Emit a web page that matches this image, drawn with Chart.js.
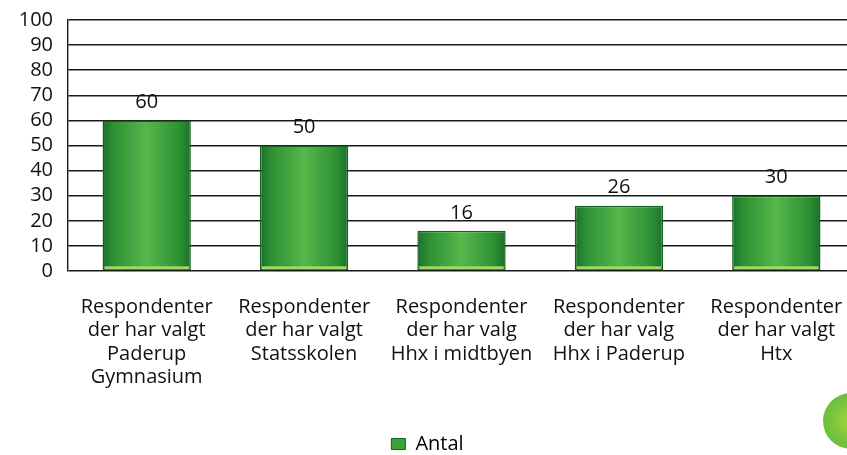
<!DOCTYPE html>
<html>
<head>
<meta charset="utf-8">
<script src="https://cdn.jsdelivr.net/npm/chart.js@4.4.0/dist/chart.umd.min.js"></script>
<style>
  html, body { margin: 0; padding: 0; background: #fff; overflow: hidden; }
  #wrap { position: relative; width: 870px; height: 455px; }
  #deco { position: absolute; left: 823px; top: 393px; width: 56px; height: 56px; border-radius: 50%;
          background: radial-gradient(circle at 50% 50%, #a6d63a 0%, #7cc63e 45%, #55b43a 100%); }
</style>
</head>
<body>
<div id="wrap">
  <canvas id="c" width="870" height="455"></canvas>
  <div id="deco"></div>
</div>
<script>
const categories = [
  ["Respondenter", "der har valgt", "Paderup", "Gymnasium"],
  ["Respondenter", "der har valgt", "Statsskolen"],
  ["Respondenter", "der har valg", "Hhx i midtbyen"],
  ["Respondenter", "der har valg", "Hhx i Paderup"],
  ["Respondenter", "der har valgt", "Htx"]
];
const seriesName = "Antal";
const values = [60, 50, 16, 26, 30];
const yTicks = [0, 10, 20, 30, 40, 50, 60, 70, 80, 90, 100];

const FONT = "'Open Sans', sans-serif";
const BAR_PCT = 0.561;

function barGradient(ctx) {
  const chart = ctx.chart;
  const xs = chart.scales && chart.scales.x;
  if (!xs || !chart.chartArea || ctx.dataIndex === undefined) return '#3a9a3a';
  const cx = xs.getPixelForValue(ctx.dataIndex);
  const w = (xs.width / categories.length) * BAR_PCT;
  if (!isFinite(cx) || !isFinite(w) || w <= 0) return '#3a9a3a';
  const g = chart.ctx.createLinearGradient(cx - w / 2, 0, cx + w / 2, 0);
  g.addColorStop(0, '#1a6f2a');
  g.addColorStop(0.12, '#2c8f34');
  g.addColorStop(0.5, '#56b74a');
  g.addColorStop(0.88, '#2c8f34');
  g.addColorStop(1, '#1a6f2a');
  return g;
}

const extras = {
  id: 'extras',
  afterLayout(chart) {
    if (chart.legend) { chart.legend.top += 9; chart.legend.bottom += 9; }
  },
  afterDatasetsDraw(chart) {
    const ctx = chart.ctx;
    const meta = chart.getDatasetMeta(0);
    ctx.save();
    meta.data.forEach((bar, i) => {
      const p = bar.getProps(['x', 'y', 'base', 'width'], true);
      ctx.fillStyle = '#a3d862';
      ctx.fillRect(p.x - p.width / 2 + 2, p.base - 4, p.width - 4, 3);
      ctx.fillStyle = '#111';
      ctx.font = "20px " + FONT;
      ctx.textAlign = 'center';
      ctx.textBaseline = 'middle';
      ctx.fillText(String(values[i]), p.x, p.y - 18);
    });
    ctx.restore();
  }
};

new Chart(document.getElementById('c'), {
  type: 'bar',
  data: {
    labels: categories,
    datasets: [{
      label: seriesName,
      data: values,
      backgroundColor: barGradient,
      borderColor: '#17611f',
      borderWidth: 1.5,
      borderSkipped: false,
      categoryPercentage: 1,
      barPercentage: BAR_PCT
    }]
  },
  options: {
    responsive: false,
    animation: false,
    devicePixelRatio: 1,
    layout: { autoPadding: false, padding: { top: 20, left: 0, right: 15, bottom: 0 } },
    plugins: {
      tooltip: { enabled: false },
      legend: {
        position: 'bottom',
        labels: {
          font: { family: FONT, size: 20 },
          color: '#111',
          boxWidth: 14,
          boxHeight: 11,
          padding: 2,
          generateLabels(chart) {
            return [{ text: seriesName, fillStyle: '#3aa23c', strokeStyle: '#17611f', lineWidth: 1, datasetIndex: 0 }];
          }
        }
      }
    },
    scales: {
      x: {
        grid: { display: false, drawTicks: false },
        border: { display: false },
        ticks: {
          font: { family: FONT, size: 20, lineHeight: 1.18 },
          color: '#111',
          maxRotation: 0,
          autoSkip: false,
          padding: 24
        },
        afterFit(s) { s.height = 152; s.paddingLeft = 0; s.paddingRight = 0; }
      },
      y: {
        min: 0, max: 100,
        afterBuildTicks(s) { s.ticks = yTicks.map(v => ({ value: v })); },
        grid: { color: '#1a1a1a', lineWidth: 1.4, drawTicks: false },
        border: { display: true, color: '#1a1a1a', width: 1.4 },
        ticks: {
          font: { family: FONT, size: 20 },
          color: '#111',
          padding: 15,
          autoSkip: false
        },
        afterFit(s) { s.width = 68; s.paddingTop = 0; s.paddingBottom = 0; }
      }
    }
  },
  plugins: [extras]
});
</script>
</body>
</html>
